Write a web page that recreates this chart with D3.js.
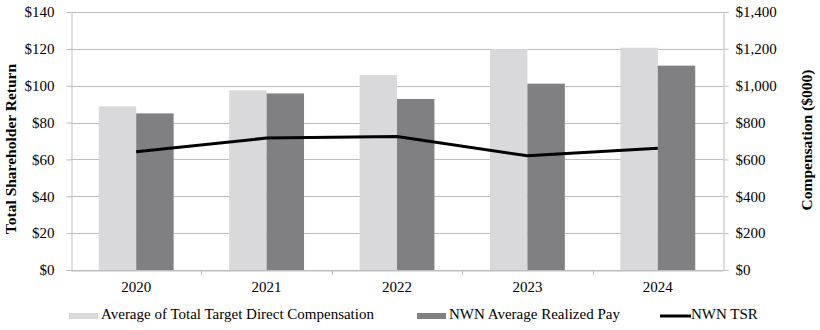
<!DOCTYPE html>
<html>
<head>
<meta charset="utf-8">
<script src="https://cdn.jsdelivr.net/npm/d3@7"></script>
<style>
  body { margin: 0; background: #fff; }
</style>
</head>
<body>
<svg width="820" height="330"></svg>
<script>
// Data
const years = ["2020", "2021", "2022", "2023", "2024"];
const targetComp = [888, 975, 1058, 1198, 1206];   // Average of Total Target Direct Compensation ($000)
const realizedPay = [850, 958, 928, 1011, 1109];   // NWN Average Realized Pay ($000)
const tsr = [64.2, 71.6, 72.4, 62.0, 66.0];        // NWN TSR ($)
const leftTicks = [0, 20, 40, 60, 80, 100, 120, 140];
const rightTicks = [0, 200, 400, 600, 800, 1000, 1200, 1400];

const FONT = "'Liberation Serif', 'Times New Roman', serif";
const svg = d3.select("svg");
const margin = {left: 71, right: 97, top: 12, bottom: 60};
const W = 820, H = 330;
const x0 = margin.left, x1 = W - margin.right;
const yTop = margin.top, yBot = H - margin.bottom;

const x = d3.scaleBand().domain(years).range([x0, x1]).padding(0);
const yL = d3.scaleLinear().domain([0, 140]).range([yBot, yTop]);
const yR = d3.scaleLinear().domain([0, 1400]).range([yBot, yTop]);

const grid = "#bdbdbd";
const lightC = "#d9d9db", darkC = "#808083";

// gridlines
svg.append("g")
  .selectAll("line")
  .data(leftTicks)
  .enter().append("line")
  .attr("x1", x0).attr("x2", x1)
  .attr("y1", d => Math.round(yL(d)) + 0.5)
  .attr("y2", d => Math.round(yL(d)) + 0.5)
  .attr("stroke", grid).attr("stroke-width", 1);

// bars
const barW = x.bandwidth() * 0.287;
const bars = svg.append("g");
years.forEach((yr, i) => {
  const c = x(yr) + x.bandwidth() / 2;
  bars.append("rect")
    .attr("x", c - barW).attr("width", barW)
    .attr("y", yR(targetComp[i])).attr("height", yBot - yR(targetComp[i]))
    .attr("fill", lightC);
  bars.append("rect")
    .attr("x", c).attr("width", barW)
    .attr("y", yR(realizedPay[i])).attr("height", yBot - yR(realizedPay[i]))
    .attr("fill", darkC);
});

// axes
const fmt = d => "$" + d3.format(",")(d);
const leftAxis = svg.append("g")
  .attr("transform", `translate(${x0 + 0.5},0)`)
  .call(d3.axisLeft(yL).tickValues(leftTicks).tickSize(5).tickPadding(12).tickFormat(fmt));
const rightAxis = svg.append("g")
  .attr("transform", `translate(${x1 + 0.5},0)`)
  .call(d3.axisRight(yR).tickValues(rightTicks).tickSize(5).tickPadding(7).tickFormat(fmt));
const bottomAxis = svg.append("g")
  .attr("transform", `translate(0,${yBot + 0.5})`)
  .call(d3.axisBottom(x).tickSize(0).tickPadding(9));

[leftAxis, rightAxis, bottomAxis].forEach(g => {
  g.attr("font-family", null).attr("font-size", null);
  g.select(".domain").attr("stroke", grid);
  g.selectAll(".tick line").attr("stroke", grid);
  g.selectAll("text").style("font-size", "15px").style("font-family", FONT).attr("fill", "#000");
});
bottomAxis.selectAll("text").attr("dy", null).attr("y", 21);

// category boundary ticks on the bottom axis
svg.append("g")
  .selectAll("line")
  .data(years.slice(1))
  .enter().append("line")
  .attr("x1", d => Math.round(x(d)) + 0.5).attr("x2", d => Math.round(x(d)) + 0.5)
  .attr("y1", yBot).attr("y2", yBot + 5)
  .attr("stroke", grid);

// TSR line
const line = d3.line()
  .x((d, i) => x(years[i]) + x.bandwidth() / 2)
  .y(d => yL(d));
svg.append("path")
  .datum(tsr)
  .attr("d", line)
  .attr("fill", "none")
  .attr("stroke", "#000")
  .attr("stroke-width", 3);

// axis titles
svg.append("text")
  .attr("transform", `translate(16,149) rotate(-90)`)
  .attr("text-anchor", "middle")
  .style("font-family", FONT).style("font-size", "15.5px").style("font-weight", "bold")
  .text("Total Shareholder Return");
svg.append("text")
  .attr("transform", `translate(812,140) rotate(-90)`)
  .attr("text-anchor", "middle")
  .style("font-family", FONT).style("font-size", "15.5px").style("font-weight", "bold")
  .text("Compensation ($000)");

// legend
const legendY = 319;
const legend = svg.append("g");
const items = [
  {label: "Average of Total Target Direct Compensation", type: "rect", color: lightC, x: 69},
  {label: "NWN Average Realized Pay", type: "rect", color: darkC, x: 417},
  {label: "NWN TSR", type: "line", color: "#000", x: 660}
];
items.forEach(it => {
  if (it.type === "rect") {
    legend.append("rect").attr("x", it.x).attr("y", legendY - 6).attr("width", 29).attr("height", 6)
      .attr("fill", it.color);
  } else {
    legend.append("line").attr("x1", it.x).attr("x2", it.x + 31)
      .attr("y1", legendY - 3).attr("y2", legendY - 3)
      .attr("stroke", it.color).attr("stroke-width", 3);
  }
  legend.append("text")
    .attr("x", it.x + (it.type === "rect" ? 32 : 31))
    .attr("y", legendY)
    .style("font-family", FONT).style("font-size", "15px")
    .text(it.label);
});
</script>
</body>
</html>
